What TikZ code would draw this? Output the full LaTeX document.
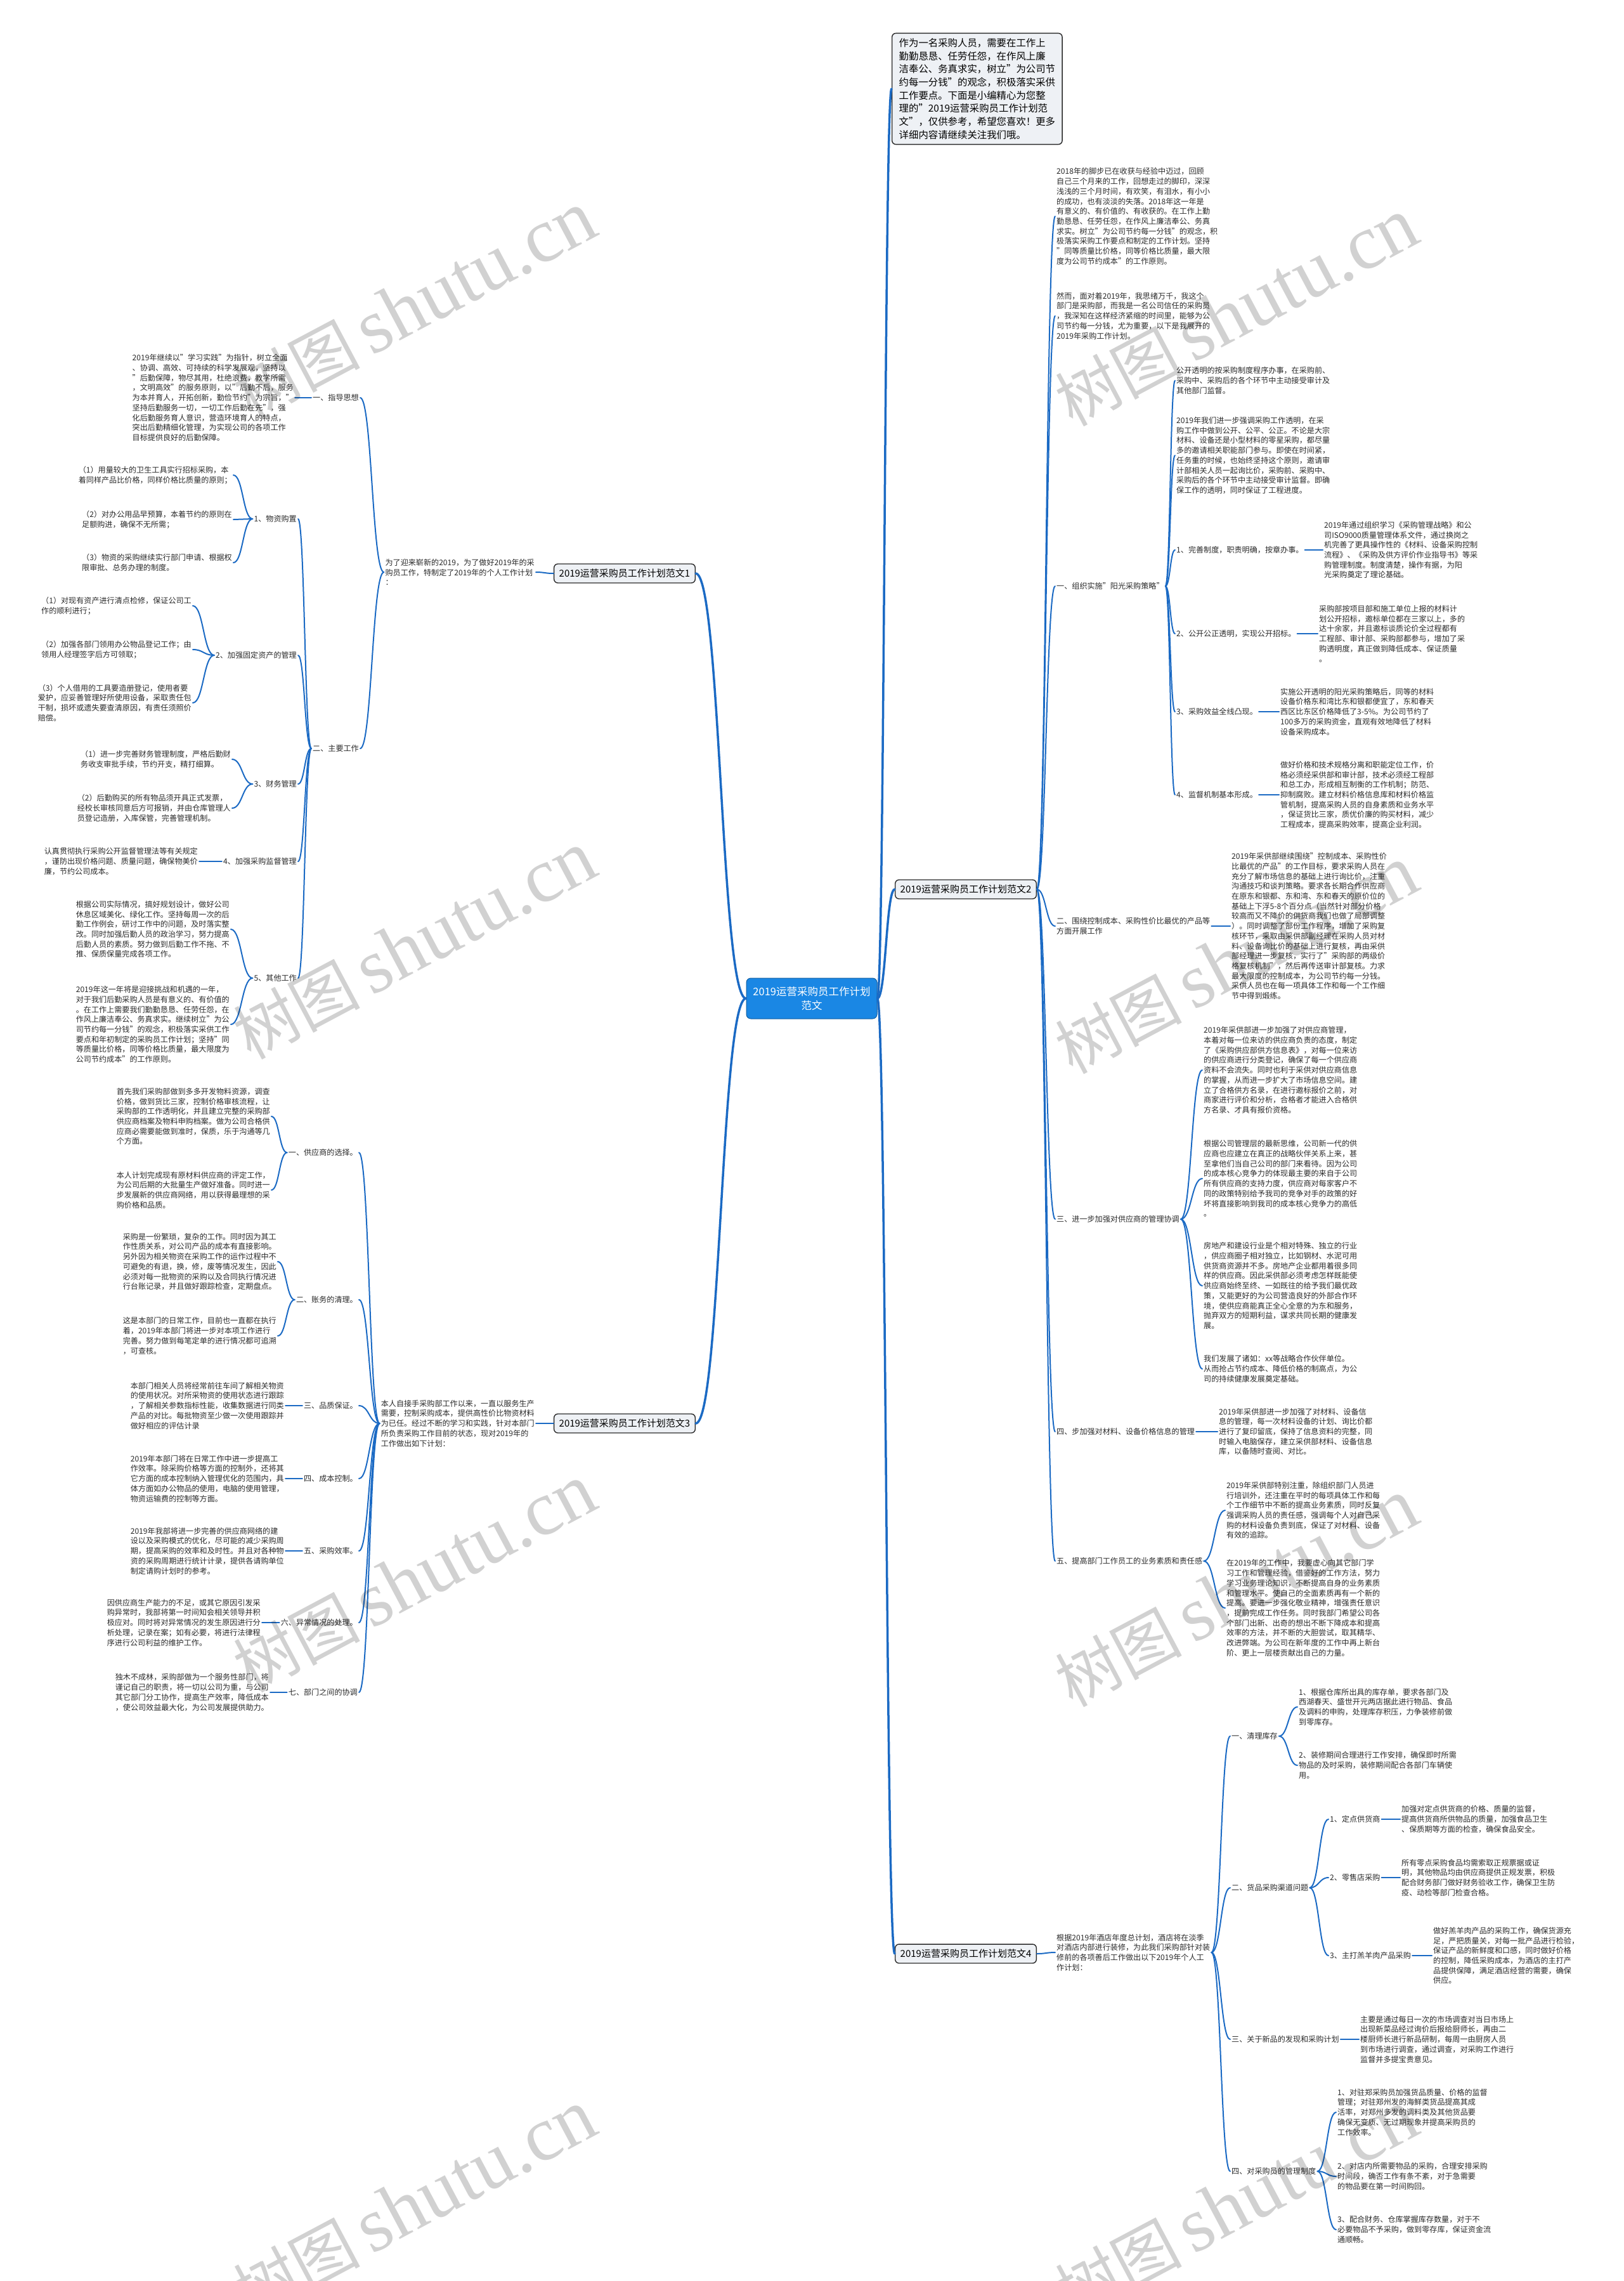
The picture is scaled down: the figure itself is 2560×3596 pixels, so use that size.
\documentclass[tikz,border=0pt]{standalone}
\usepackage{fontspec}
\setmainfont{Noto Sans CJK SC}
\newfontfamily\wmserif{Liberation Serif}
\usepackage{tikz}
\usetikzlibrary{calc}
\definecolor{linkblue}{HTML}{1B6AC4}
\definecolor{rootblue}{HTML}{1A87E4}
\definecolor{topicgray}{HTML}{EEF1F5}
\definecolor{inkgray}{HTML}{2B2B2B}

\begin{document}
\begin{tikzpicture}[x=1pt, y=-1pt,
  txt/.style={font=\fontsize{12.1}{15.7}\selectfont, align=left, inner sep=2pt, text=inkgray},
  topic/.style={draw=inkgray, line width=1.4pt, fill=topicgray, rounded corners=6pt, font=\fontsize{15}{19}\selectfont, inner xsep=8pt, inner ysep=8pt},
  intro/.style={topic, align=left, font=\fontsize{15.4}{20.7}\selectfont, inner xsep=11pt, inner ysep=8pt},
  root/.style={fill=rootblue, draw=rootblue!70!black, line width=1pt, rounded corners=7pt, text=white, align=center, font=\fontsize{16.5}{22}\selectfont, minimum width=206pt, minimum height=64pt},
  link/.style={draw=linkblue, line width=2pt, line cap=round, to path={.. controls ($(\tikztostart)!0.5!(\tikztotarget|-\tikztostart)$) and ($(\tikztotarget)!0.5!(\tikztostart|-\tikztotarget)$) .. (\tikztotarget)}},
  trunk/.style={link, line width=3.5pt},
  wmark/.style={rotate=28, text=black, text opacity=0.18, inner sep=0pt}]
  \useasboundingbox (0,0) rectangle (2560,3596);
  \fill[white] (0,0) rectangle (2560,3596);

  \node[root] (root) at (1280,1574) {2019运营采购员工作计划\\范文};
  \node[intro, anchor=west] (intro) at (1406,140) {作为一名采购人员，需要在工作上\\勤勤恳恳、任劳任怨，在作风上廉\\洁奉公、务真求实，树立"为公司节\\约每一分钱"的观念，积极落实采供\\工作要点。下面是小编精心为您整\\理的"2019运营采购员工作计划范\\文"，仅供参考，希望您喜欢！更多\\详细内容请继续关注我们哦。};
  \node[topic, anchor=west] (f2) at (1411,1402) {2019运营采购员工作计划范文2};
  \node[topic, anchor=west] (f4) at (1411,3080) {2019运营采购员工作计划范文4};
  \node[topic, anchor=east] (f1) at (1097,904) {2019运营采购员工作计划范文1};
  \node[topic, anchor=east] (f3) at (1097,2244) {2019运营采购员工作计划范文3};

  \node[txt, anchor=west] (a) at (1664,341) {2018年的脚步已在收获与经验中迈过，回顾\\自己三个月来的工作，回想走过的脚印，深深\\浅浅的三个月时间，有欢笑，有泪水，有小小\\的成功，也有淡淡的失落。2018年这一年是\\有意义的、有价值的、有收获的。在工作上勤\\勤恳恳、任劳任怨，在作风上廉洁奉公、务真\\求实。树立"为公司节约每一分钱"的观念，积\\极落实采购工作要点和制定的工作计划。坚持\\"同等质量比价格，同等价格比质量，最大限\\度为公司节约成本"的工作原则。};
  \node[txt, anchor=west] (b) at (1664,498) {然而，面对着2019年，我思绪万千，我这个\\部门是采购部，而我是一名公司信任的采购员\\，我深知在这样经济紧缩的时间里，能够为公\\司节约每一分钱，尤为重要，以下是我展开的\\2019年采购工作计划。};
  \node[txt, anchor=west] (c) at (1664,924) {一、组织实施"阳光采购策略"};
  \node[txt, anchor=west] (c1) at (1853,600) {公开透明的按采购制度程序办事，在采购前、\\采购中、采购后的各个环节中主动接受审计及\\其他部门监督。};
  \node[txt, anchor=west] (c2) at (1853,718) {2019年我们进一步强调采购工作透明，在采\\购工作中做到公开、公平、公正。不论是大宗\\材料、设备还是小型材料的零星采购，都尽量\\多的邀请相关职能部门参与。即使在时间紧，\\任务重的时候，也始终坚持这个原则，邀请审\\计部相关人员一起询比价，采购前、采购中、\\采购后的各个环节中主动接受审计监督。即确\\保工作的透明，同时保证了工程进度。};
  \node[txt, anchor=west] (c3) at (1853,867) {1、完善制度，职责明确，按章办事。};
  \node[txt, anchor=west] (c3d) at (2086,867) {2019年通过组织学习《采购管理战略》和公\\司ISO9000质量管理体系文件，通过换岗之\\机完善了更具操作性的《材料、设备采购控制\\流程》、《采购及供方评价作业指导书》等采\\购管理制度。制度清楚，操作有据，为阳\\光采购奠定了理论基础。};
  \node[txt, anchor=west] (c4) at (1853,999) {2、公开公正透明，实现公开招标。};
  \node[txt, anchor=west] (c4d) at (2078,999) {采购部按项目部和施工单位上报的材料计\\划公开招标，邀标单位都在三家以上，多的\\达十余家，并且邀标谈质论价全过程都有\\工程部、审计部、采购部都参与，增加了采\\购透明度，真正做到降低成本、保证质量\\。};
  \node[txt, anchor=west] (c5) at (1853,1122) {3、采购效益全线凸现。};
  \node[txt, anchor=west] (c5d) at (2017,1122) {实施公开透明的阳光采购策略后，同等的材料\\设备价格东和湾比东和银都便宜了，东和春天\\西区比东区价格降低了3-5\%。为公司节约了\\100多万的采购资金，直观有效地降低了材料\\设备采购成本。};
  \node[txt, anchor=west] (c6) at (1853,1253) {4、监督机制基本形成。};
  \node[txt, anchor=west] (c6d) at (2017,1253) {做好价格和技术规格分离和职能定位工作，价\\格必须经采供部和审计部，技术必须经工程部\\和总工办，形成相互制衡的工作机制；防范、\\抑制腐败。建立材料价格信息库和材料价格监\\管机制，提高采购人员的自身素质和业务水平\\，保证货比三家，质优价廉的购买材料，减少\\工程成本，提高采购效率，提高企业利润。};
  \node[txt, anchor=west] (d) at (1664,1460) {二、围绕控制成本、采购性价比最优的产品等\\方面开展工作};
  \node[txt, anchor=west] (dd) at (1940,1460) {2019年采供部继续围绕"控制成本、采购性价\\比最优的产品"的工作目标，要求采购人员在\\充分了解市场信息的基础上进行询比价，注重\\沟通技巧和谈判策略。要求各长期合作供应商\\在原东和银都、东和湾、东和春天的原价位的\\基础上下浮5-8个百分点（当然针对部分价格\\较高而又不降价的供货商我们也做了局部调整\\）。同时调整了部份工作程序，增加了采购复\\核环节，采取由采供部副经理在采购人员对材\\料、设备询比价的基础上进行复核，再由采供\\部经理进一步复核，实行了"采购部的两级价\\格复核机制"，然后再传送审计部复核。力求\\最大限度的控制成本，为公司节约每一分钱。\\采供人员也在每一项具体工作和每一个工作细\\节中得到煅练。};
  \node[txt, anchor=west] (e) at (1664,1922) {三、进一步加强对供应商的管理协调};
  \node[txt, anchor=west] (e1) at (1896,1687) {2019年采供部进一步加强了对供应商管理，\\本着对每一位来访的供应商负责的态度，制定\\了《采购供应部供方信息表》，对每一位来访\\的供应商进行分类登记，确保了每一个供应商\\资料不会流失。同时也利于采供对供应商信息\\的掌握，从而进一步扩大了市场信息空间。建\\立了合格供方名录，在进行邀标报价之前，对\\商家进行评价和分析，合格者才能进入合格供\\方名录、才具有报价资格。};
  \node[txt, anchor=west] (e2) at (1896,1858) {根据公司管理层的最新思维，公司新一代的供\\应商也应建立在真正的战略伙伴关系上来，甚\\至拿他们当自己公司的部门来看待。因为公司\\的成本核心竞争力的体现最主要的来自于公司\\所有供应商的支持力度，供应商对每家客户不\\同的政策特别给予我司的竞争对手的政策的好\\坏将直接影响到我司的成本核心竞争力的高低\\。};
  \node[txt, anchor=west] (e3) at (1896,2027) {房地产和建设行业是个相对特殊、独立的行业\\，供应商圈子相对独立，比如钢材、水泥可用\\供货商资源并不多。房地产企业都用着很多同\\样的供应商。因此采供部必须考虑怎样既能使\\供应商始终至终、一如既往的给予我们最优政\\策，又能更好的为公司营造良好的外部合作环\\境，使供应商能真正全心全意的为东和服务，\\抛弃双方的短期利益，谋求共同长期的健康发\\展。};
  \node[txt, anchor=west] (e4) at (1896,2158) {我们发展了诸如：xx等战略合作伙伴单位。\\从而抢占节约成本、降低价格的制高点，为公\\司的持续健康发展奠定基础。};
  \node[txt, anchor=west] (f) at (1664,2257) {四、步加强对材料、设备价格信息的管理};
  \node[txt, anchor=west] (fd) at (1920,2257) {2019年采供部进一步加强了对材料、设备信\\息的管理，每一次材料设备的计划、询比价都\\进行了复印留底，保持了信息资料的完整，同\\时输入电脑保存，建立采供部材料、设备信息\\库，以备随时查阅、对比。};
  \node[txt, anchor=west] (g) at (1664,2461) {五、提高部门工作员工的业务素质和责任感};
  \node[txt, anchor=west] (g1) at (1932,2381) {2019年采供部特别注重，除组织部门人员进\\行培训外，还注重在平时的每项具体工作和每\\个工作细节中不断的提高业务素质，同时反复\\强调采购人员的责任感，强调每个人对自己采\\购的材料设备负责到底，保证了对材料、设备\\有效的追踪。};
  \node[txt, anchor=west] (g2) at (1932,2535) {在2019年的工作中，我要虚心向其它部门学\\习工作和管理经验，借鉴好的工作方法，努力\\学习业务理论知识，不断提高自身的业务素质\\和管理水平。使自己的全面素质再有一个新的\\提高。要进一步强化敬业精神，增强责任意识\\，提前完成工作任务。同时我部门希望公司各\\个部门出新、出奇的想出不断下降成本和提高\\效率的方法，并不断的大胆尝试，取其精华、\\改进弊端。为公司在新年度的工作中再上新台\\阶、更上一层楼贡献出自己的力量。};

  \node[txt, anchor=west] (h) at (1664,3078) {根据2019年酒店年度总计划，酒店将在淡季\\对酒店内部进行装修，为此我们采购部针对装\\修前的各项善后工作做出以下2019年个人工\\作计划：};
  \node[txt, anchor=west] (h1) at (1940,2737) {一、清理库存};
  \node[txt, anchor=west] (h1a) at (2046,2691) {1、根据仓库所出具的库存单，要求各部门及\\西湖春天、盛世开元两店据此进行物品、食品\\及调料的申购，处理库存积压，力争装修前做\\到零库存。};
  \node[txt, anchor=west] (h1b) at (2046,2783) {2、装修期间合理进行工作安排，确保即时所需\\物品的及时采购，装修期间配合各部门车辆使\\用。};
  \node[txt, anchor=west] (h2) at (1940,2976) {二、货品采购渠道问题};
  \node[txt, anchor=west] (h2a) at (2095,2868) {1、定点供货商};
  \node[txt, anchor=west] (h2ad) at (2208,2868) {加强对定点供货商的价格、质量的监督，\\提高供货商所供物品的质量，加强食品卫生\\、保质期等方面的检查，确保食品安全。};
  \node[txt, anchor=west] (h2b) at (2095,2960) {2、零售店采购};
  \node[txt, anchor=west] (h2bd) at (2208,2960) {所有零点采购食品均需索取正规票据或证\\明，其他物品均由供应商提供正规发票，积极\\配合财务部门做好财务验收工作，确保卫生防\\疫、动检等部门检查合格。};
  \node[txt, anchor=west] (h2c) at (2095,3083) {3、主打羔羊肉产品采购};
  \node[txt, anchor=west] (h2cd) at (2258,3083) {做好羔羊肉产品的采购工作，确保货源充\\足，严把质量关，对每一批产品进行检验，\\保证产品的新鲜度和口感，同时做好价格\\的控制，降低采购成本，为酒店的主打产\\品提供保障，满足酒店经营的需要，确保\\供应。};
  \node[txt, anchor=west] (h3) at (1940,3215) {三、关于新品的发现和采购计划};
  \node[txt, anchor=west] (h3d) at (2143,3215) {主要是通过每日一次的市场调查对当日市场上\\出现新菜品经过询价后报给厨师长，再由二\\楼厨师长进行新品研制，每周一由厨房人员\\到市场进行调查，通过调查，对采购工作进行\\监督并多提宝贵意见。};
  \node[txt, anchor=west] (h4) at (1940,3423) {四、对采购员的管理制度};
  \node[txt, anchor=west] (h4a) at (2107,3330) {1、对驻郑采购员加强货品质量、价格的监督\\管理；对驻郑州发的海鲜类货品提高其成\\活率，对郑州多发的调料类及其他货品要\\确保无变质、无过期现象并提高采购员的\\工作效率。};
  \node[txt, anchor=west] (h4b) at (2107,3431) {2、对店内所需要物品的采购，合理安排采购\\时间段，确否工作有条不紊，对于急需要\\的物品要在第一时间购回。};
  \node[txt, anchor=west] (h4c) at (2107,3515) {3、配合财务、仓库掌握库存数量，对于不\\必要物品不予采购，做到零存库，保证资金流\\通顺畅。};

  \node[txt, anchor=east] (k) at (845,902) {为了迎来崭新的2019，为了做好2019年的采\\购员工作，特制定了2019年的个人工作计划\\：};
  \node[txt, anchor=east] (k1) at (568,627) {一、指导思想};
  \node[txt, anchor=east] (k1d) at (465,627) {2019年继续以"学习实践"为指针，树立全面\\、协调、高效、可持续的科学发展观，坚持以\\"后勤保障，物尽其用，杜绝浪费，教学所需\\，文明高效"的服务原则，以"后勤不后，服务\\为本并育人，开拓创新，勤俭节约"为宗旨，"\\坚持后勤服务一切，一切工作后勤在先"，强\\化后勤服务育人意识，营造环境育人的特点，\\突出后勤精细化管理，为实现公司的各项工作\\目标提供良好的后勤保障。};
  \node[txt, anchor=east] (k2) at (568,1180) {二、主要工作};
  \node[txt, anchor=east] (m1) at (470,818) {1、物资购置};
  \node[txt, anchor=east] (m1a) at (368,749) {（1）用量较大的卫生工具实行招标采购，本\\着同样产品比价格，同样价格比质量的原则；};
  \node[txt, anchor=east] (m1b) at (368,819) {（2）对办公用品早预算，本着节约的原则在\\足额购进，确保不无所需；};
  \node[txt, anchor=east] (m1c) at (368,887) {（3）物资的采购继续实行部门申请、根据权\\限审批、总务办理的制度。};
  \node[txt, anchor=east] (m2) at (470,1033) {2、加强固定资产的管理};
  \node[txt, anchor=east] (m2a) at (304,955) {（1）对现有资产进行清点检修，保证公司工\\作的顺利进行；};
  \node[txt, anchor=east] (m2b) at (304,1024) {（2）加强各部门领用办公物品登记工作；由\\领用人经理签字后方可领取；};
  \node[txt, anchor=east] (m2c) at (304,1108) {（3）个人借用的工具要造册登记，使用者要\\爱护，应妥善管理好所使用设备，采取责任包\\干制，损坏或遗失要查清原因，有责任须照价\\赔偿。};
  \node[txt, anchor=east] (m3) at (470,1236) {3、财务管理};
  \node[txt, anchor=east] (m3a) at (366,1197) {（1）进一步完善财务管理制度，严格后勤财\\务收支审批手续，节约开支，精打细算。};
  \node[txt, anchor=east] (m3b) at (366,1274) {（2）后勤购买的所有物品须开具正式发票，\\经校长审核同意后方可报销，并由仓库管理人\\员登记造册，入库保管，完善管理机制。};
  \node[txt, anchor=east] (m4) at (470,1358) {4、加强采购监督管理};
  \node[txt, anchor=east] (m4d) at (314,1358) {认真贯彻执行采购公开监督管理法等有关规定\\，谨防出现价格问题、质量问题，确保物美价\\廉，节约公司成本。};
  \node[txt, anchor=east] (m5) at (470,1542) {5、其他工作};
  \node[txt, anchor=east] (m5a) at (364,1465) {根据公司实际情况，搞好规划设计，做好公司\\休息区域美化、绿化工作。坚持每周一次的后\\勤工作例会，研讨工作中的问题，及时落实整\\改。同时加强后勤人员的政治学习，努力提高\\后勤人员的素质。努力做到后勤工作不拖、不\\推、保质保量完成各项工作。};
  \node[txt, anchor=east] (m5b) at (364,1615) {2019年这一年将是迎接挑战和机遇的一年，\\对于我们后勤采购人员是有意义的、有价值的\\。在工作上需要我们勤勤恳恳、任劳任怨，在\\作风上廉洁奉公、务真求实。继续树立"为公\\司节约每一分钱"的观念，积极落实采供工作\\要点和年初制定的采购员工作计划；坚持"同\\等质量比价格，同等价格比质量，最大限度为\\公司节约成本"的工作原则。};

  \node[txt, anchor=east] (n) at (845,2244) {本人自接手采购部工作以来，一直以服务生产\\需要，控制采购成本，提供高性价比物资材料\\为已任。经过不断的学习和实践，针对本部门\\所负责采购工作目前的状态，现对2019年的\\工作做出如下计划：};
  \node[txt, anchor=east] (n1) at (566,1817) {一、供应商的选择。};
  \node[txt, anchor=east] (n1a) at (428,1760) {首先我们采购部做到多多开发物料资源，调查\\价格，做到货比三家，控制价格审核流程，让\\采购部的工作透明化，并且建立完整的采购部\\供应商档案及物料申购档案。做为公司合格供\\应商必需要能做到准时，保质，乐于沟通等几\\个方面。};
  \node[txt, anchor=east] (n1b) at (428,1876) {本人计划完成现有原材料供应商的评定工作，\\为公司后期的大批量生产做好准备。同时进一\\步发展新的供应商网络，用以获得最理想的采\\购价格和品质。};
  \node[txt, anchor=east] (n2) at (566,2049) {二、账务的清理。};
  \node[txt, anchor=east] (n2a) at (438,1989) {采购是一份繁琐，复杂的工作。同时因为其工\\作性质关系，对公司产品的成本有直接影响。\\另外因为相关物资在采购工作的运作过程中不\\可避免的有退，换，修，废等情况发生，因此\\必须对每一批物资的采购以及合同执行情况进\\行台账记录，并且做好跟踪检查，定期盘点。};
  \node[txt, anchor=east] (n2b) at (438,2106) {这是本部门的日常工作，目前也一直都在执行\\着，2019年本部门将进一步对本项工作进行\\完善。努力做到每笔定单的进行情况都可追溯\\，可查核。};
  \node[txt, anchor=east] (n3) at (566,2216) {三、品质保证。};
  \node[txt, anchor=east] (n3d) at (450,2216) {本部门相关人员将经常前往车间了解相关物资\\的使用状况。对所采物资的使用状态进行跟踪\\，了解相关参数指标性能，收集数据进行同类\\产品的对比。每批物资至少做一次使用跟踪并\\做好相应的评估计录};
  \node[txt, anchor=east] (n4) at (566,2331) {四、成本控制。};
  \node[txt, anchor=east] (n4d) at (450,2331) {2019年本部门将在日常工作中进一步提高工\\作效率。除采购价格等方面的控制外，还将其\\它方面的成本控制纳入管理优化的范围内，具\\体方面如办公物品的使用，电脑的使用管理，\\物资运输费的控制等方面。};
  \node[txt, anchor=east] (n5) at (566,2445) {五、采购效率。};
  \node[txt, anchor=east] (n5d) at (450,2445) {2019年我部将进一步完善的供应商网络的建\\设以及采购模式的优化，尽可能的减少采购周\\期，提高采购的效率和及时性。并且对各种物\\资的采购周期进行统计计录，提供各请购单位\\制定请购计划时的参考。};
  \node[txt, anchor=east] (n6) at (566,2558) {六、异常情况的处理。};
  \node[txt, anchor=east] (n6d) at (413,2558) {因供应商生产能力的不足，或其它原因引发采\\购异常时，我部将第一时间知会相关领导并积\\极应对。同时将对异常情况的发生原因进行分\\析处理，记录在案；如有必要，将进行法律程\\序进行公司利益的维护工作。};
  \node[txt, anchor=east] (n7) at (566,2668) {七、部门之间的协调};
  \node[txt, anchor=east] (n7d) at (426,2668) {独木不成林，采购部做为一个服务性部门，将\\谨记自己的职责，将一切以公司为重，与公司\\其它部门分工协作，提高生产效率，降低成本\\，使公司效益最大化，为公司发展提供助力。};

  \draw[trunk] (root.east) to (intro.west);
  \draw[trunk] (root.east) to (f2.west);
  \draw[trunk] (root.east) to (f4.west);
  \draw[trunk] (root.west) to (f1.east);
  \draw[trunk] (root.west) to (f3.east);

  \foreach \t in {a,b,c,d,e,f,g}
    \draw[link] (f2.east) to (\t.west);
  \foreach \t in {c1,c2,c3,c4,c5,c6}
    \draw[link] (c.east) to (\t.west);
  \foreach \s in {c3,c4,c5,c6}
    \draw[link] (\s.east) to (\s d.west);
  \draw[link] (d.east) to (dd.west);
  \foreach \t in {e1,e2,e3,e4}
    \draw[link] (e.east) to (\t.west);
  \draw[link] (f.east) to (fd.west);
  \foreach \t in {g1,g2}
    \draw[link] (g.east) to (\t.west);

  \draw[link] (f4.east) to (h.west);
  \foreach \t in {h1,h2,h3,h4}
    \draw[link] (h.east) to (\t.west);
  \foreach \t in {h1a,h1b}
    \draw[link] (h1.east) to (\t.west);
  \foreach \t in {h2a,h2b,h2c}
    \draw[link] (h2.east) to (\t.west);
  \foreach \s in {h2a,h2b,h2c,h3}
    \draw[link] (\s.east) to (\s d.west);
  \foreach \t in {h4a,h4b,h4c}
    \draw[link] (h4.east) to (\t.west);

  \draw[link] (f1.west) to (k.east);
  \foreach \t in {k1,k2}
    \draw[link] (k.west) to (\t.east);
  \draw[link] (k1.west) to (k1d.east);
  \foreach \t in {m1,m2,m3,m4,m5}
    \draw[link] (k2.west) to (\t.east);
  \foreach \t in {m1a,m1b,m1c}
    \draw[link] (m1.west) to (\t.east);
  \foreach \t in {m2a,m2b,m2c}
    \draw[link] (m2.west) to (\t.east);
  \foreach \t in {m3a,m3b}
    \draw[link] (m3.west) to (\t.east);
  \draw[link] (m4.west) to (m4d.east);
  \foreach \t in {m5a,m5b}
    \draw[link] (m5.west) to (\t.east);

  \draw[link] (f3.west) to (n.east);
  \foreach \t in {n1,n2,n3,n4,n5,n6,n7}
    \draw[link] (n.west) to (\t.east);
  \foreach \t in {n1a,n1b}
    \draw[link] (n1.west) to (\t.east);
  \foreach \t in {n2a,n2b}
    \draw[link] (n2.west) to (\t.east);
  \foreach \s in {n3,n4,n5,n6,n7}
    \draw[link] (\s.west) to (\s d.east);

  \foreach \p/\q [count=\i] in {654/482, 1950/493, 654/1491, 1950/1514, 654/2489, 1950/2512, 654/3475, 1950/3475}
    \node[wmark] (wm\i) at (\p,\q) {\fontsize{100}{100}\selectfont 树图\,{\wmserif\fontsize{122}{122}\selectfont shutu.cn}};
\end{tikzpicture}
\end{document}
